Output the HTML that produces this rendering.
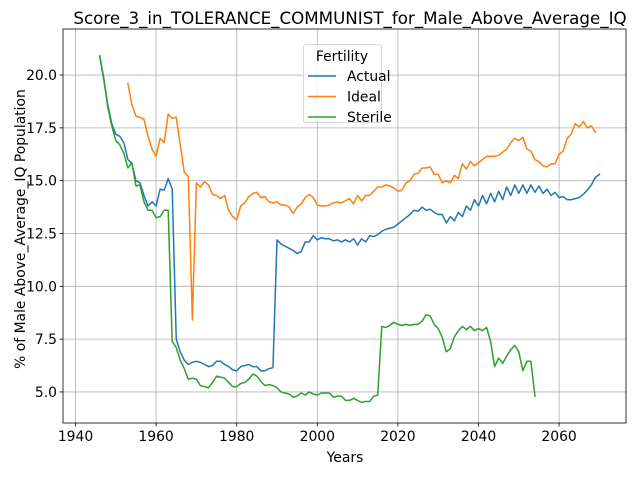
<!DOCTYPE html>
<html><head><meta charset="utf-8"><style>
body{margin:0;background:#fff}
svg{font-family:"DejaVu Sans","Liberation Sans",sans-serif;display:block}
</style></head><body>
<svg id="chart" width="640" height="480"></svg>
<script>
const years0 = 1946;
const actualValues = [20.9,19.8,18.6,17.7,17.2,17.1,16.8,16.0,15.8,15.0,14.9,14.3,13.8,14.0,13.8,14.6,14.55,15.1,14.6,7.5,6.9,6.5,6.3,6.4,6.45,6.4,6.3,6.2,6.25,6.45,6.45,6.3,6.2,6.05,6.0,6.2,6.25,6.3,6.2,6.2,6.0,6.0,6.1,6.15,12.2,12.0,11.9,11.8,11.7,11.55,11.65,12.1,12.1,12.4,12.2,12.3,12.25,12.25,12.15,12.2,12.1,12.2,12.1,12.25,11.95,12.25,12.1,12.4,12.35,12.45,12.6,12.7,12.75,12.8,12.95,13.1,13.25,13.4,13.6,13.55,13.75,13.6,13.65,13.5,13.4,13.4,13.0,13.3,13.1,13.5,13.3,13.8,13.6,14.1,13.8,14.3,13.9,14.4,14.0,14.5,14.1,14.7,14.3,14.8,14.4,14.8,14.4,14.8,14.45,14.75,14.4,14.6,14.3,14.45,14.2,14.25,14.1,14.1,14.15,14.2,14.35,14.55,14.8,15.15,15.3];
const idealStart = 1953;
const idealValues = [19.6,18.6,18.05,18.0,17.9,17.1,16.5,16.15,17.0,16.8,18.15,17.95,18.0,16.7,15.4,15.2,8.4,14.9,14.7,14.95,14.8,14.35,14.3,14.15,14.3,13.6,13.3,13.15,13.8,13.95,14.25,14.4,14.45,14.2,14.25,14.0,13.95,14.0,13.85,13.85,13.75,13.45,13.75,13.9,14.2,14.35,14.2,13.85,13.8,13.8,13.85,13.95,14.0,13.95,14.05,14.15,13.9,14.3,14.05,14.3,14.3,14.5,14.7,14.7,14.8,14.75,14.65,14.5,14.55,14.9,15.0,15.3,15.35,15.6,15.6,15.65,15.3,15.3,14.9,15.0,14.9,15.25,15.1,15.8,15.55,15.9,15.7,15.85,16.0,16.15,16.15,16.15,16.2,16.35,16.5,16.8,17.0,16.9,17.05,16.5,16.4,16.0,15.9,15.7,15.65,15.8,15.8,16.25,16.4,17.0,17.2,17.7,17.55,17.8,17.5,17.6,17.3];
const sterileValues = [20.9,19.9,18.5,17.6,16.9,16.7,16.3,15.6,15.85,14.75,14.8,14.0,13.6,13.6,13.25,13.3,13.6,13.6,7.4,7.1,6.5,6.1,5.6,5.65,5.6,5.3,5.25,5.2,5.45,5.75,5.7,5.65,5.45,5.25,5.25,5.4,5.45,5.6,5.85,5.75,5.5,5.3,5.35,5.3,5.2,5.0,4.95,4.9,4.75,4.8,4.95,4.85,5.0,4.9,4.85,4.95,4.95,4.95,4.75,4.8,4.8,4.6,4.6,4.7,4.6,4.5,4.55,4.55,4.8,4.85,8.1,8.05,8.15,8.3,8.2,8.15,8.2,8.15,8.2,8.2,8.35,8.65,8.6,8.2,8.0,7.6,6.9,7.05,7.6,7.9,8.1,7.95,8.1,7.9,8.0,7.9,8.05,7.4,6.2,6.6,6.35,6.7,7.0,7.2,6.9,6.0,6.45,6.45,4.8];
const xTicks = [1940,1960,1980,2000,2020,2040,2060];
const yTicks = [5.0,7.5,10.0,12.5,15.0,17.5,20.0];

const L=63,R=626,T=29,B=423;
const xMin=1936.9,xMax=2076.6,yMin=3.53,yMax=22.18;
const X=v=>L+(v-xMin)/(xMax-xMin)*(R-L);
const Y=v=>B-(v-yMin)/(yMax-yMin)*(B-T);
const svg=document.getElementById('chart');
const NS='http://www.w3.org/2000/svg';
function mk(tag,attrs,parent){const e=document.createElementNS(NS,tag);for(const k in attrs)e.setAttribute(k,attrs[k]);(parent||svg).appendChild(e);return e;}

const grid=mk('g',{});


xTicks.forEach(t=>{
  mk('line',{x1:X(t),x2:X(t),y1:T,y2:B,stroke:'#b0b0b0','stroke-width':0.8},grid);
  mk('line',{x1:X(t),x2:X(t),y1:B,y2:B+3.5,stroke:'#000','stroke-width':0.8},grid);
  const tx=mk('text',{x:X(t),y:B+18,'text-anchor':'middle','font-size':13.9},grid);
  tx.textContent=t;
  
  
});
yTicks.forEach(t=>{
  mk('line',{x1:L,x2:R,y1:Y(t),y2:Y(t),stroke:'#b0b0b0','stroke-width':0.8},grid);
  mk('line',{x1:L-3.5,x2:L,y1:Y(t),y2:Y(t),stroke:'#000','stroke-width':0.8},grid);
  const tx=mk('text',{x:L-6,y:Y(t)+5,'text-anchor':'end','font-size':13.9},grid);
  tx.textContent=t.toFixed(1);
  
  
});

function series(vals,start,color,name){
  const pts=vals.map((v,i)=>X(start+i).toFixed(2)+','+Y(v).toFixed(2)).join(' ');
  const p=mk('polyline',{points:pts,fill:'none',stroke:color,'stroke-width':1.5,'stroke-linejoin':'round','stroke-linecap':'square'});
  
  
}
series(actualValues,years0,'#1f77b4','actual-line');
series(idealValues,idealStart,'#ff7f0e','ideal-line');
series(sterileValues,years0,'#2ca02c','sterile-line');

const frame=mk('rect',{x:L,y:T,width:R-L,height:B-T,fill:'none',stroke:'#000','stroke-width':0.8});


</script>
<svg width="640" height="480" style="position:absolute;left:0;top:0">
<text x="350" y="29" text-anchor="middle" font-size="16.7" dy="-5">Score_3_in_TOLERANCE_COMMUNIST_for_Male_Above_Average_IQ</text>
<text x="345" y="462" text-anchor="middle" font-size="13.9">Years</text>
<text x="0" y="0" text-anchor="middle" font-size="13.9" transform="translate(25,229) rotate(-90)">% of Male Above_Average_IQ Population</text>
<g>
<rect x="303.5" y="44.5" width="78" height="78" rx="2" fill="#fff" fill-opacity="0.8" stroke="#ccc" stroke-width="0.8"/>
<text x="342" y="61" text-anchor="middle" font-size="13.9">Fertility</text>
<line x1="308" x2="336" y1="76" y2="76" stroke="#1f77b4" stroke-width="1.5"/>
<text x="347" y="81" font-size="13.9">Actual</text>
<line x1="308" x2="336" y1="96.5" y2="96.5" stroke="#ff7f0e" stroke-width="1.5"/>
<text x="347" y="101.5" font-size="13.9">Ideal</text>
<line x1="308" x2="336" y1="117" y2="117" stroke="#2ca02c" stroke-width="1.5"/>
<text x="347" y="122" font-size="13.9">Sterile</text>
</g>
</svg>
</body></html>
